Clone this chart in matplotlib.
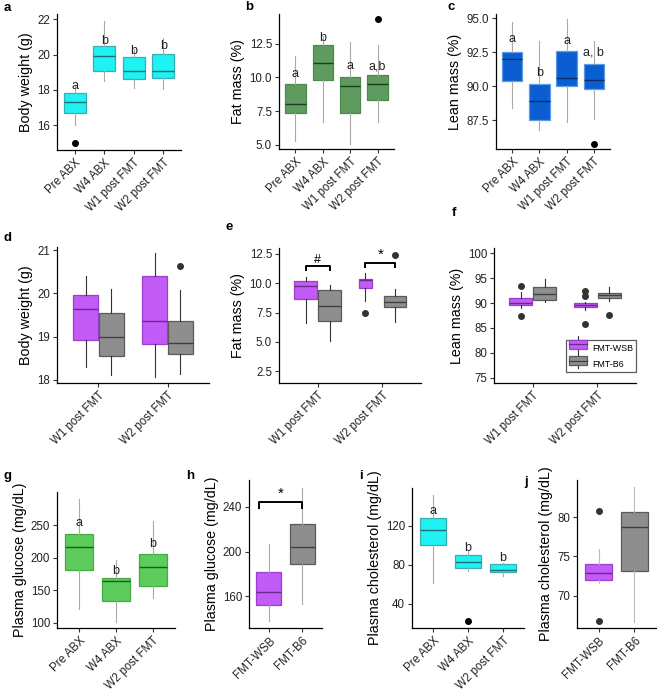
import matplotlib
matplotlib.use("Agg")
import matplotlib.pyplot as plt
from matplotlib.legend_handler import HandlerBase
from matplotlib.patches import Rectangle
from matplotlib.lines import Line2D

plt.rcParams['font.family'] = ['Liberation Sans', 'DejaVu Sans']

W, H = 657, 692

# ---------------- data ----------------
time4 = ["Pre ABX", "W4 ABX", "W1 post FMT", "W2 post FMT"]
time2 = ["W1 post FMT", "W2 post FMT"]
time3 = ["Pre ABX", "W4 ABX", "W2 post FMT"]
groups = ["FMT-WSB", "FMT-B6"]

# each: [whislo, q1, med, q3, whishi]
bw_a = [[16.0, 16.7, 17.3, 17.8, 18.25], [18.5, 19.1, 19.95, 20.5, 21.9],
        [18.1, 18.6, 19.1, 19.85, 20.3], [18.05, 18.7, 19.1, 20.05, 20.95]]
bw_a_out = [[15.0], [], [], []]
bw_a_let = ["a", "b", "b", "b"]
bw_a_lety = [18.2, 20.78, 20.18, 20.5]

fat_b = [[5.3, 7.4, 8.0, 9.55, 11.6], [6.7, 9.8, 11.1, 12.4, 13.1],
         [5.1, 7.35, 9.4, 10.0, 12.6], [6.7, 8.35, 9.55, 10.2, 12.4]]
fat_b_out = [[], [], [], [14.3]]
fat_b_let = ["a", "b", "a", "a,b"]
fat_b_lety = [10.22, 12.91, 10.83, 10.83]

lean_c = [[88.4, 90.4, 92.0, 92.55, 94.7], [86.8, 87.5, 88.9, 90.2, 93.3],
          [87.4, 90.0, 90.6, 92.6, 94.9], [87.6, 89.8, 90.45, 91.6, 93.3]]
lean_c_out = [[], [], [], [85.8]]
lean_c_let = ["a", "b", "a", "a, b"]
lean_c_lety = [93.46, 90.98, 93.35, 92.47]

# per time: [WSB, B6]
bw_d = [[[18.3, 18.93, 19.63, 19.97, 20.4], [18.1, 18.55, 19.0, 19.55, 20.1]],
        [[18.05, 18.82, 19.37, 20.4, 20.95], [18.12, 18.6, 18.85, 19.35, 20.07]]]
bw_d_out = [[[], []], [[], [20.65]]]

fat_e = [[[6.6, 8.65, 9.75, 10.2, 10.5], [5.1, 6.8, 8.1, 9.45, 9.85]],
         [[8.5, 9.6, 10.25, 10.4, 10.9], [6.7, 7.95, 8.4, 8.9, 9.55]]]
fat_e_out = [[[], []], [[7.5], [12.4]]]
fat_e_sig = ["#", "*"]

lean_f = [[[89.0, 89.6, 90.1, 91.0, 92.2], [90.2, 90.6, 91.9, 93.2, 94.9]],
          [[88.6, 89.2, 89.6, 90.0, 90.3], [90.4, 91.0, 91.6, 92.1, 93.3]]]
lean_f_out = [[[93.4, 87.3], []], [[92.5, 91.5, 85.8], [87.6]]]

glu_g = [[121, 181, 217, 236, 290], [101, 134, 164, 169, 196], [138, 156, 186, 206, 257]]
glu_g_out = [[], [], []]
glu_g_let = ["a", "b", "b"]
glu_g_lety = [253, 179.5, 220.6]

glu_h = [[138, 152, 164, 182, 207], [153, 189, 204, 225, 257]]
glu_h_sig = "*"

chol_i = [[61.5, 99.9, 115.9, 127.9, 152.3], [73.6, 76.6, 83.0, 90.0, 95.0],
          [68.5, 72.5, 74.6, 80.4, 82.0]]
chol_i_out = [[], [21.8], []]
chol_i_let = ["a", "b", "b"]
chol_i_lety = [135, 97.4, 86.9]

chol_j = [[71.6, 71.95, 72.9, 74.0, 75.9], [66.7, 73.1, 78.7, 80.6, 83.8]]
chol_j_out = [[80.7, 66.8], []]

# ---------------- styles ----------------
CYAN = dict(face="#1ef2f2", edge="#3aaeb0", med="#1d6f70")
GREEN_B = dict(face="#5f9a5f", edge="#4b8a4b", med="#1f3d1f")
BLUE = dict(face="#0b5ed2", edge="#5b9be3", med="#0a2d66")
GREEN_G = dict(face="#5ccd5c", edge="#44aa44", med="#1e5a1e")
WSB = dict(face="#c35bf7", edge="#9a3fcf", med="#6a2a8a")
B6 = dict(face="#8e8e8e", edge="#5a5a5a", med="#404040")

TICK_FS = 8.3
XT_FS = 8.3
LAB_FS = 10.3
LET_FS = 9.0


def add_ax(l, r, t, b):
    return fig.add_axes([l / W, 1 - b / H, (r - l) / W, (b - t) / H])


def style_ax(ax, ylim, yticks, yticklabels, ylabel, xlabels, ngroups):
    for s in ["top", "right"]:
        ax.spines[s].set_visible(False)
    for s in ["left", "bottom"]:
        ax.spines[s].set_linewidth(0.9)
        ax.spines[s].set_color("black")
    ax.set_ylim(*ylim)
    ax.set_xlim(0.4, ngroups + 0.6)
    ax.set_yticks(yticks)
    ax.set_yticklabels(yticklabels, fontsize=TICK_FS, color="#222222")
    ax.set_xticks(range(1, ngroups + 1))
    ax.set_xticklabels(xlabels, fontsize=XT_FS, color="#222222", rotation=45,
                       ha="right", va="top", rotation_mode="anchor")
    ax.tick_params(direction="out", length=3, width=0.8, color="#333333", pad=2)
    ax.set_ylabel(ylabel, fontsize=LAB_FS, labelpad=3)
    ax.patch.set_alpha(0)


def draw(ax, stats5, outs, positions, widths, st, wcol, ocol="black"):
    stats = []
    for s, o in zip(stats5, outs):
        stats.append(dict(whislo=s[0], q1=s[1], med=s[2], q3=s[3], whishi=s[4], fliers=o))
    ax.bxp(stats, positions=positions, widths=widths, patch_artist=True, showcaps=False,
           manage_ticks=False,
           boxprops=dict(facecolor=st["face"], edgecolor=st["edge"], linewidth=0.9),
           medianprops=dict(color=st["med"], linewidth=1.0),
           whiskerprops=dict(color=wcol, linewidth=0.8),
           flierprops=dict(marker="o", markersize=4, markerfacecolor=ocol,
                           markeredgecolor=ocol))


def panel_label(x, y, s):
    fig.text(x / W, 1 - y / H, s, fontsize=9.5, fontweight="bold", ha="left", va="center")


def letters(ax, labs, ys):
    for i, (l, y) in enumerate(zip(labs, ys)):
        ax.text(i + 1, y, l, ha="center", va="center", fontsize=LET_FS, color="#222222")


def bracket(ax, x1, x2, ytop, ybot, label, ylab, fs=10):
    ax.plot([x1, x1, x2, x2], [ybot, ytop, ytop, ybot], color="black", lw=1.4,
            solid_capstyle="butt", clip_on=False)
    ax.text((x1 + x2) / 2, ylab, label, ha="center", va="center", fontsize=fs)


fig = plt.figure(figsize=(W / 100, H / 100), dpi=100)

# ---- a ----
ax = add_ax(57, 181, 14, 150)
draw(ax, bw_a, bw_a_out, [1, 2, 3, 4], 0.75, CYAN, "#aaaaaa")
letters(ax, bw_a_let, bw_a_lety)
style_ax(ax, (14.6, 22.3), [16, 18, 20, 22], ["16", "18", "20", "22"], "Body weight (g)", time4, 4)
panel_label(4, 8, "a")

# ---- b ----
ax = add_ax(279, 394, 14, 149)
draw(ax, fat_b, fat_b_out, [1, 2, 3, 4], 0.75, GREEN_B, "#aaaaaa")
letters(ax, fat_b_let, fat_b_lety)
style_ax(ax, (4.7, 14.7), [5, 7.5, 10, 12.5], ["5.0", "7.5", "10.0", "12.5"], "Fat mass (%)", time4, 4)
panel_label(245, 7, "b")

# ---- c ----
ax = add_ax(496, 610, 14, 149)
draw(ax, lean_c, lean_c_out, [1, 2, 3, 4], 0.75, BLUE, "#aaaaaa")
letters(ax, lean_c_let, lean_c_lety)
style_ax(ax, (85.4, 95.3), [87.5, 90, 92.5, 95], ["87.5", "90.0", "92.5", "95.0"], "Lean mass (%)", time4, 4)
panel_label(448, 7, "c")


def grouped(ax, data, outs, wcol, ocol, w_override=None):
    for gi in range(len(data)):
        for k, st in enumerate([WSB, B6]):
            pos = gi + 1 + (-0.185 if k == 0 else 0.185)
            wd = 0.36
            if w_override and (gi, k) in w_override:
                pos, wd = gi + 1 + w_override[(gi, k)][0], w_override[(gi, k)][1]
            draw(ax, [data[gi][k]], [outs[gi][k]], [pos], wd, st, wcol, ocol)


# ---- d ----
ax = add_ax(57, 209, 247, 383)
grouped(ax, bw_d, bw_d_out, "#333333", "#333333")
style_ax(ax, (17.92, 21.08), [18, 19, 20, 21], ["18", "19", "20", "21"], "Body weight (g)", time2, 2)
panel_label(3, 238, "d")

# ---- e ----
ax = add_ax(279, 421, 248, 383)
grouped(ax, fat_e, fat_e_out, "#333333", "#333333",
        w_override={(1, 0): (-0.26, 0.2), (1, 1): (0.2, 0.34)})
bracket(ax, 1 - 0.185, 1 + 0.185, 11.5, 11.0, fat_e_sig[0], 11.95, fs=9)
bracket(ax, 2 - 0.26, 2 + 0.2, 11.73, 11.27, fat_e_sig[1], 12.4, fs=11)
style_ax(ax, (1.5, 13.0), [2.5, 5, 7.5, 10, 12.5], ["2.5", "5.0", "7.5", "10.0", "12.5"],
         "Fat mass (%)", time2, 2)
panel_label(226, 227, "e")

# ---- f ----
ax = add_ax(494, 636, 248, 383)
grouped(ax, lean_f, lean_f_out, "#333333", "#333333")
style_ax(ax, (73.9, 101.1), [75, 80, 85, 90, 95, 100], ["75", "80", "85", "90", "95", "100"],
         "Lean mass (%)", time2, 2)
panel_label(452, 213, "f")


class BoxHandler(HandlerBase):
    def __init__(self, st):
        super().__init__()
        self.st = st

    def create_artists(self, legend, orig_handle, xd, yd, width, height, fontsize, trans):
        cx = xd + width / 2
        bw = width
        r = Rectangle((cx - bw / 2, yd + height * 0.05), bw, height * 0.9,
                      facecolor=self.st["face"], edgecolor=self.st["edge"], lw=0.9, transform=trans)
        m = Line2D([cx - bw / 2, cx + bw / 2], [yd + height / 2] * 2, color=self.st["med"], lw=0.9,
                   transform=trans)
        w1 = Line2D([cx, cx], [yd - height * 0.3, yd + height * 0.05], color="#333333", lw=0.8,
                    transform=trans)
        w2 = Line2D([cx, cx], [yd + height * 0.95, yd + height * 1.3], color="#333333", lw=0.8,
                    transform=trans)
        return [w1, w2, r, m]


h1 = Rectangle((0, 0), 1, 1)
h2 = Rectangle((0, 0), 1, 1)
leg = ax.legend([h1, h2], groups, loc="lower left", bbox_to_anchor=(0.505, 0.078),
                borderaxespad=0, fontsize=6.4, frameon=True, fancybox=False,
                handler_map={h1: BoxHandler(WSB), h2: BoxHandler(B6)},
                handlelength=2.0, handleheight=1.3, handletextpad=0.6, labelspacing=0.75,
                borderpad=0.35)
leg.get_frame().set_edgecolor("#333333")
leg.get_frame().set_linewidth(0.9)

# ---- g ----
ax = add_ax(57, 175, 492, 628)
draw(ax, glu_g, glu_g_out, [1, 2, 3], 0.75, GREEN_G, "#aaaaaa")
letters(ax, glu_g_let, glu_g_lety)
style_ax(ax, (91.8, 300.8), [100, 150, 200, 250], ["100", "150", "200", "250"],
         "Plasma glucose (mg/dL)", time3, 3)
panel_label(3, 476, "g")

# ---- h ----
ax = add_ax(249, 322, 480, 628)
draw(ax, [glu_h[0]], [[]], [1], 0.75, WSB, "#aaaaaa")
draw(ax, [glu_h[1]], [[]], [2], 0.75, B6, "#aaaaaa")
bracket(ax, 0.7, 2.0, 244.7, 237.9, glu_h_sig, 251.5, fs=11)
style_ax(ax, (131.8, 264), [160, 200, 240], ["160", "200", "240"],
         "Plasma glucose (mg/dL)", groups, 2)
panel_label(186, 476, "h")

# ---- i ----
ax = add_ax(412, 524, 488, 628)
draw(ax, chol_i, chol_i_out, [1, 2, 3], 0.75, CYAN, "#aaaaaa")
letters(ax, chol_i_let, chol_i_lety)
style_ax(ax, (15, 159), [40, 80, 120], ["40", "80", "120"],
         "Plasma cholesterol (mg/dL)", time3, 3)
panel_label(359, 476, "i")

# ---- j ----
ax = add_ax(577, 656, 480, 628)
draw(ax, [chol_j[0]], [chol_j_out[0]], [1], 0.75, WSB, "#bbbbbb", "#333333")
draw(ax, [chol_j[1]], [chol_j_out[1]], [2], 0.75, B6, "#bbbbbb", "#333333")
style_ax(ax, (65.9, 84.7), [70, 75, 80], ["70", "75", "80"],
         "Plasma cholesterol (mg/dL)", groups, 2)
panel_label(524, 482, "j")

fig.savefig("out.png", dpi=100)
